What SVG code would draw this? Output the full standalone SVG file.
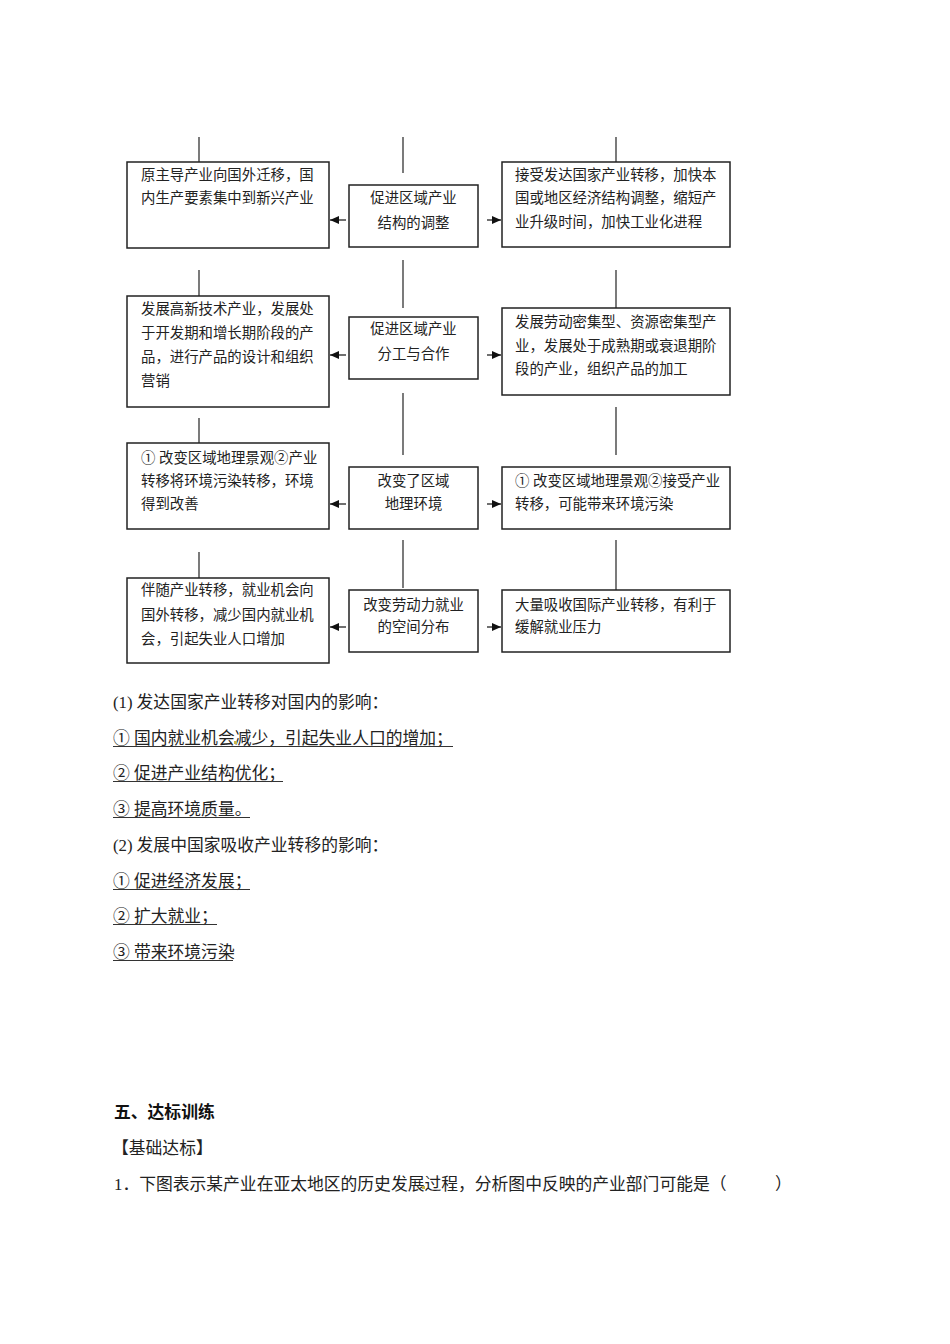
<svg xmlns="http://www.w3.org/2000/svg" width="950" height="1344" viewBox="0 0 950 1344">
<style>
.bx{fill:#fff;stroke:#222;stroke-width:1.5}
.ln{stroke:#222;stroke-width:1.2;fill:none}
.ar{stroke:#222;stroke-width:1.3;fill:none;marker-end:url(#ah)}
.t{font-family:"Liberation Serif","Noto Sans CJK SC",serif;font-size:14.4px;fill:#222}
.c{text-anchor:middle}
.b{font-family:"Liberation Serif","Noto Sans CJK SC",serif;font-size:16.8px;fill:#222}
.h{font-family:"Liberation Sans","Noto Sans CJK SC",sans-serif;font-size:16.8px;font-weight:bold;fill:#111}
.u{stroke:#333;stroke-width:1}
</style>
<defs>
<marker id="ah" markerWidth="9" markerHeight="8" refX="9" refY="4" orient="auto" markerUnits="userSpaceOnUse"><path d="M0,0 L9,4 L0,8 z" fill="#111"/></marker>
</defs>
<rect width="950" height="1344" fill="#fff"/>

<g id="connectors">
<line class="ln" x1="199" y1="137" x2="199" y2="162"/>
<line class="ln" x1="403" y1="137" x2="403" y2="173"/>
<line class="ln" x1="616" y1="137" x2="616" y2="162"/>
<line class="ln" x1="199" y1="270" x2="199" y2="296"/>
<line class="ln" x1="403" y1="260" x2="403" y2="308"/>
<line class="ln" x1="616" y1="270" x2="616" y2="308"/>
<line class="ln" x1="199" y1="418" x2="199" y2="443"/>
<line class="ln" x1="403" y1="393" x2="403" y2="455"/>
<line class="ln" x1="616" y1="407" x2="616" y2="455"/>
<line class="ln" x1="199" y1="552" x2="199" y2="578"/>
<line class="ln" x1="403" y1="540" x2="403" y2="588"/>
<line class="ln" x1="616" y1="540" x2="616" y2="590"/>
<line class="ar" x1="346" y1="220" x2="330" y2="220"/>
<line class="ar" x1="487" y1="220" x2="501" y2="220"/>
<line class="ar" x1="346" y1="355" x2="330" y2="355"/>
<line class="ar" x1="487" y1="355" x2="501" y2="355"/>
<line class="ar" x1="346" y1="504" x2="330" y2="504"/>
<line class="ar" x1="487" y1="504" x2="501" y2="504"/>
<line class="ar" x1="346" y1="627" x2="330" y2="627"/>
<line class="ar" x1="487" y1="627" x2="501" y2="627"/>
</g>

<g id="n1-left">
<rect class="bx" x="127" y="162" width="202" height="86"/>
<text class="t" x="141" y="180">原主导产业向国外迁移，国</text>
<text class="t" x="141" y="203">内生产要素集中到新兴产业</text>
</g>
<g id="n1-mid">
<rect class="bx" x="349" y="185" width="129" height="62"/>
<text class="t c" x="413.5" y="203">促进区域产业</text>
<text class="t c" x="413.5" y="228">结构的调整</text>
</g>
<g id="n1-right">
<rect class="bx" x="502" y="162" width="228" height="85"/>
<text class="t" x="515" y="180">接受发达国家产业转移，加快本</text>
<text class="t" x="515" y="203">国或地区经济结构调整，缩短产</text>
<text class="t" x="515" y="227">业升级时间，加快工业化进程</text>
</g>

<g id="n2-left">
<rect class="bx" x="127" y="296" width="202" height="111"/>
<text class="t" x="141" y="314">发展高新技术产业，发展处</text>
<text class="t" x="141" y="338">于开发期和增长期阶段的产</text>
<text class="t" x="141" y="362">品，进行产品的设计和组织</text>
<text class="t" x="141" y="386">营销</text>
</g>
<g id="n2-mid">
<rect class="bx" x="349" y="317" width="129" height="62"/>
<text class="t c" x="413.5" y="334">促进区域产业</text>
<text class="t c" x="413.5" y="359">分工与合作</text>
</g>
<g id="n2-right">
<rect class="bx" x="502" y="308" width="228" height="87"/>
<text class="t" x="515" y="327">发展劳动密集型、资源密集型产</text>
<text class="t" x="515" y="351">业，发展处于成熟期或衰退期阶</text>
<text class="t" x="515" y="374">段的产业，组织产品的加工</text>
</g>

<g id="n3-left">
<rect class="bx" x="127" y="443" width="202" height="86"/>
<text class="t" x="141" y="463">① 改变区域地理景观②产业</text>
<text class="t" x="141" y="486">转移将环境污染转移，环境</text>
<text class="t" x="141" y="509">得到改善</text>
</g>
<g id="n3-mid">
<rect class="bx" x="349" y="467" width="129" height="62"/>
<text class="t c" x="413.5" y="486">改变了区域</text>
<text class="t c" x="413.5" y="509">地理环境</text>
</g>
<g id="n3-right">
<rect class="bx" x="502" y="467" width="228" height="62"/>
<text class="t" x="515" y="486">① 改变区域地理景观②接受产业</text>
<text class="t" x="515" y="509">转移，可能带来环境污染</text>
</g>

<g id="n4-left">
<rect class="bx" x="127" y="578" width="202" height="85"/>
<text class="t" x="141" y="595">伴随产业转移，就业机会向</text>
<text class="t" x="141" y="620">国外转移，减少国内就业机</text>
<text class="t" x="141" y="644">会，引起失业人口增加</text>
</g>
<g id="n4-mid">
<rect class="bx" x="349" y="590" width="129" height="62"/>
<text class="t c" x="413.5" y="610">改变劳动力就业</text>
<text class="t c" x="413.5" y="632">的空间分布</text>
</g>
<g id="n4-right">
<rect class="bx" x="502" y="590" width="228" height="62"/>
<text class="t" x="515" y="610">大量吸收国际产业转移，有利于</text>
<text class="t" x="515" y="632">缓解就业压力</text>
</g>

<g id="notes">
<text class="b" x="113" y="708">(1)<tspan dx="4">发达国家产业转移对国内的影响：</tspan></text>
<text class="b" x="113" y="744">① 国内就业机会减少，引起失业人口的增加；</text>
<line class="u" x1="113" y1="746.5" x2="453" y2="746.5"/>
<rect x="234" y="741" width="3" height="3" fill="#c8b448"/>
<text class="b" x="113" y="779">② 促进产业结构优化；</text>
<line class="u" x1="113" y1="781.5" x2="283" y2="781.5"/>
<text class="b" x="113" y="815">③ 提高环境质量。</text>
<line class="u" x1="113" y1="817.5" x2="250" y2="817.5"/>
<text class="b" x="113" y="851">(2)<tspan dx="4">发展中国家吸收产业转移的影响：</tspan></text>
<text class="b" x="113" y="887">① 促进经济发展；</text>
<line class="u" x1="113" y1="889.5" x2="250" y2="889.5"/>
<text class="b" x="113" y="922">② 扩大就业；</text>
<line class="u" x1="113" y1="924.5" x2="217" y2="924.5"/>
<text class="b" x="113" y="958">③ 带来环境污染</text>
<line class="u" x1="113" y1="960.5" x2="233" y2="960.5"/>
</g>

<g id="exercise">
<text class="h" x="114" y="1118">五、达标训练</text>
<text class="b" x="112" y="1154">【基础达标】</text>
<text class="b" x="114" y="1190">1．下图表示某产业在亚太地区的历史发展过程，分析图中反映的产业部门可能是（<tspan x="775">）</tspan></text>
<rect x="422" y="1186" width="3" height="3" fill="#c8b448"/>
</g>
</svg>
